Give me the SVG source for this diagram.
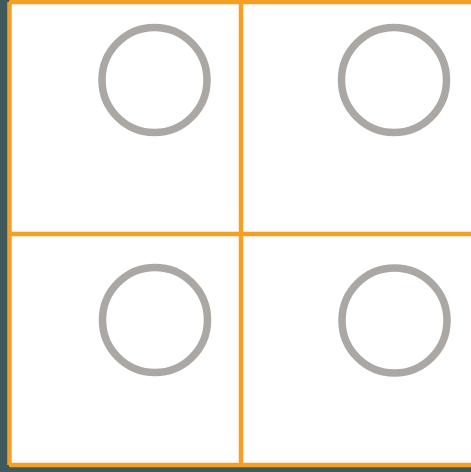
<svg xmlns="http://www.w3.org/2000/svg" width="471" height="472" viewBox="0 0 471 472">
<style>
.line{stroke:#f5a025;stroke-width:4.5;fill:none}
.ring{fill:none;stroke:#aca7a2;stroke-width:7.5}
</style>
<rect x="0" y="0" width="471" height="472" fill="#3f5a5d"/>
<rect x="9" y="1" width="462" height="465" fill="#ffffff"/>
<g id="frame">
<path class="line" d="M9.5 2H471M9.5 2V465M9.5 465H471" stroke-width="3"/>
<path class="line" d="M241 2V466M9 234H471"/>
</g>
<g id="cell-tl"><circle class="ring" cx="154.5" cy="80" r="52.5"/></g>
<g id="cell-tr"><circle class="ring" cx="394" cy="80" r="52.5"/></g>
<g id="cell-bl"><circle class="ring" cx="155" cy="320" r="52.5"/></g>
<g id="cell-br"><circle class="ring" cx="394.5" cy="320.5" r="52.5"/></g>
</svg>
